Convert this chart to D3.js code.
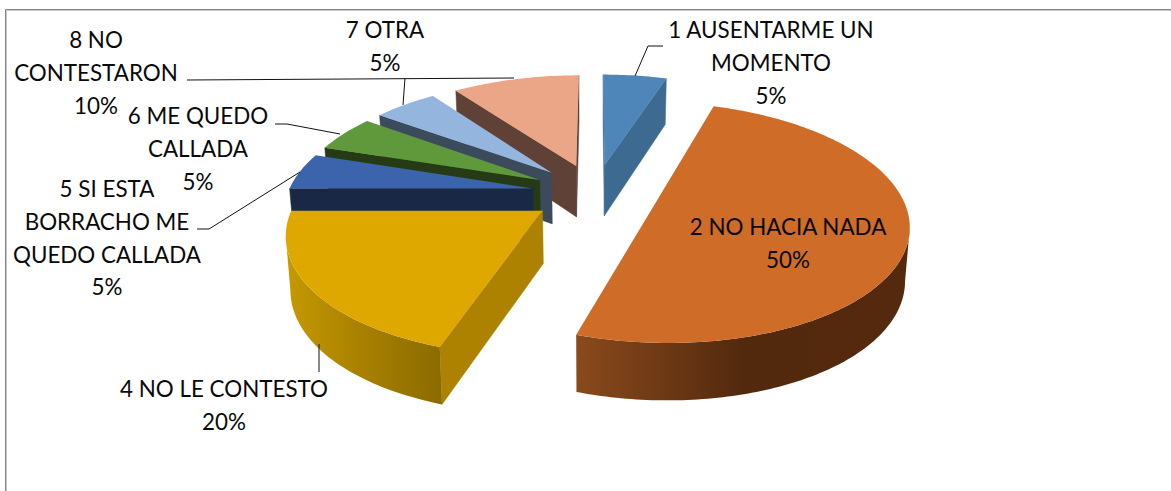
<!DOCTYPE html>
<html>
<head>
<meta charset="utf-8">
<script src="https://cdn.jsdelivr.net/npm/d3@7"></script>
<style>
  html, body { margin: 0; padding: 0; background: #fff; }
  svg { display: block; }
  text { font-family: Lato, "Open Sans", sans-serif; font-size: 22.4px; fill: #0a0a0a; text-anchor: middle; }
</style>
</head>
<body>
<svg width="1171" height="491"></svg>
<script>
const svg = d3.select("svg");

// data
const categories = ["1 AUSENTARME UN MOMENTO", "2 NO HACIA NADA", "4 NO LE CONTESTO",
  "5 SI ESTA BORRACHO ME QUEDO CALLADA", "6 ME QUEDO CALLADA", "7 OTRA", "8 NO CONTESTARON"];
const values = [5, 50, 20, 5, 5, 5, 10];

// colours
const topColors = ["#4f86ba", "#ce6c28", "#dfa800", "#3b64ac", "#5f993b", "#93b5de", "#eba587"];
const sideColors = ["#3c6a90", "#8a481b", "#ad8200", "#182845", "#263b15", "#3c4b5c", "#5f4136"];
const arcStops = [
  ["#3c6a90", "#3c6a90"],
  ["#8a4a1c", "#53290e", "#54290e"],
  ["#c59900", "#a88000", "#8c6c00"],
  ["#182845", "#182845"],
  ["#263b15", "#263b15"],
  ["#3c4b5c", "#3c4b5c"],
  ["#5f4136", "#5f4136"]
];

// label text, split by line, and where each block sits
const labelLines = [
  ["1 AUSENTARME UN", "MOMENTO"],
  ["2 NO HACIA NADA"],
  ["4 NO LE CONTESTO"],
  ["5 SI ESTA", "BORRACHO ME", "QUEDO CALLADA"],
  ["6 ME QUEDO", "CALLADA"],
  ["7 OTRA"],
  ["8 NO", "CONTESTARON"]
];
const labelPos = [[771, 38], [788, 235], [224, 397], [107, 197], [198, 124], [385, 38], [96, 48]];
const lineStep = 32.8;

// leader lines
const leaders = [
  [[635, 76], [648, 46], [663, 46]],
  [[319, 344], [319, 372]],
  [[300, 172], [209, 229], [197, 229]],
  [[340, 134], [287, 124], [275, 124]],
  [[403, 105], [405, 78]],
  [[514, 78], [187, 80]]
];

// 3d pie projection
const cx = 595, cy = 193;
const rx = 245, ry = 114, persp = 0.166;
const explode = 0.258;
const step = Math.PI / 180;

function project(u, v) {
  const w = 1 - persp * v;
  return { x: cx + rx * u / w, y: cy + ry * v / w, v: v };
}
function floor(p) {
  // bottom of the wall under a top point
  return [cx + (p.x - cx) * 0.985, p.y + 52 + 5 * p.v];
}

const pieData = d3.pie().sort(null).value(d => d)(values);

const slices = pieData.map(function (d, i) {
  const mid = (d.startAngle + d.endAngle) / 2;
  const ou = explode * Math.sin(mid), ov = -explode * Math.cos(mid);
  const n = Math.max(2, Math.round((d.endAngle - d.startAngle) / step));
  const rim = d3.range(n + 1).map(function (k) {
    const a = d.startAngle + (d.endAngle - d.startAngle) * k / n;
    return project(ou + Math.sin(a), ov - Math.cos(a));
  });
  return { i: i, apex: project(ou, ov), rim: rim };
});

const line = d3.line().x(p => p[0]).y(p => p[1]);
const defs = svg.append("defs");

// frame
svg.append("path").attr("d", "M5.5,491V9.5H1171").attr("fill", "none").attr("stroke", "#858585");
svg.append("path").attr("d", "M6.5,491V10.5H1171").attr("fill", "none").attr("stroke", "#c6c6c6");

function wall(g, a, b, color) {
  // only walls running right to left on screen face the viewer
  if (b.x >= a.x) return;
  g.append("path")
    .attr("d", line([[a.x, a.y], [b.x, b.y], floor(b), floor(a)]) + "Z")
    .attr("fill", color)
    .attr("stroke", color)
    .attr("stroke-width", 0.5);
}

// back to front
const paintOrder = [0, 6, 5, 4, 3, 2, 1];
paintOrder.forEach(function (i) {
  const s = slices[i];
  const g = svg.append("g").attr("class", "slice");
  const first = s.rim[0], last = s.rim[s.rim.length - 1];

  wall(g, s.apex, first, sideColors[i]);
  wall(g, last, s.apex, sideColors[i]);

  const front = s.rim.filter((p, k) =>
    (k > 0 && p.x < s.rim[k - 1].x) || (k < s.rim.length - 1 && s.rim[k + 1].x < p.x));
  if (front.length > 1) {
    const xs = d3.extent(front, p => p.x);
    const grad = defs.append("linearGradient")
      .attr("id", "arc" + i)
      .attr("gradientUnits", "userSpaceOnUse")
      .attr("x1", xs[0]).attr("x2", xs[1]).attr("y1", 0).attr("y2", 0);
    // gradient runs left to right, rim runs right to left
    const stops = arcStops[i];
    stops.forEach(function (c, k) {
      grad.append("stop").attr("offset", k / (stops.length - 1)).attr("stop-color", c);
    });
    const pts = front.map(p => [p.x, p.y]).concat(front.slice().reverse().map(floor));
    g.append("path").attr("d", line(pts) + "Z").attr("fill", "url(#arc" + i + ")");
  }

  const top = [s.apex].concat(s.rim).map(p => [p.x, p.y]);
  g.append("path").attr("d", line(top) + "Z").attr("fill", topColors[i]);
});

// leaders
svg.append("g").selectAll("path")
  .data(leaders)
  .join("path")
    .attr("d", line)
    .attr("fill", "none")
    .attr("stroke", "#111")
    .attr("stroke-width", 1);

// labels
categories.forEach(function (c, i) {
  const lines = labelLines[i].concat([values[i] + "%"]);
  const t = svg.append("text").attr("data-category", c);
  lines.forEach(function (l, k) {
    t.append("tspan")
      .attr("x", labelPos[i][0])
      .attr("y", labelPos[i][1] + k * lineStep)
      .text(l);
  });
});
</script>
</body>
</html>
